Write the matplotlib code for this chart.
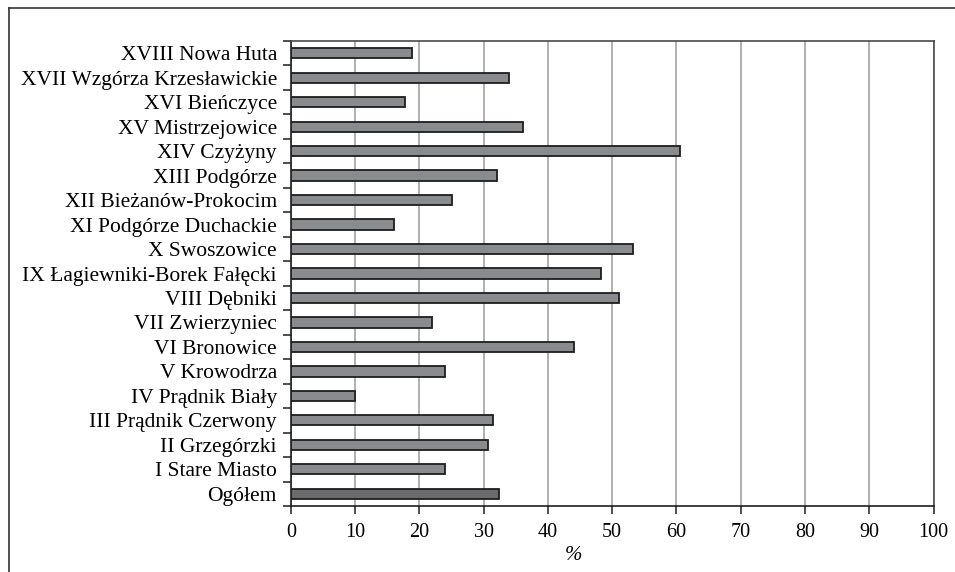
import numpy as np
import matplotlib
matplotlib.use("Agg")
import matplotlib.pyplot as plt
from matplotlib.lines import Line2D

plt.rcParams['font.family'] = ['Liberation Serif', 'DejaVu Serif']

# dzielnice od dołu do góry
dzielnice = ["Ogółem", "I Stare Miasto", "II Grzegórzki", "III Prądnik Czerwony",
             "IV Prądnik Biały", "V Krowodrza", "VI Bronowice", "VII Zwierzyniec",
             "VIII Dębniki", "IX Łagiewniki-Borek Fałęcki", "X Swoszowice",
             "XI Podgórze Duchackie", "XII Bieżanów-Prokocim", "XIII Podgórze",
             "XIV Czyżyny", "XV Mistrzejowice", "XVI Bieńczyce",
             "XVII Wzgórza Krzesławickie", "XVIII Nowa Huta"]
procent = [32.4, 24.0, 30.7, 31.4, 10.0, 24.0, 44.1, 22.0, 51.1, 48.3, 53.3,
           16.0, 25.1, 32.1, 60.5, 36.1, 17.7, 34.0, 18.8]
x_ticks = [0, 10, 20, 30, 40, 50, 60, 70, 80, 90, 100]

fig = plt.figure(figsize=(9.55, 5.72), dpi=100)
ax = fig.add_axes([0.3045, 0.1154, 0.6730, 0.8129])

y = np.arange(len(dzielnice))
kolory = ["#6b6b6e"] + ["#8a8b8e"] * (len(dzielnice) - 1)
ax.barh(y, procent, height=0.42, color=kolory, edgecolor="#1e1e1e", linewidth=1.3, zorder=3)

ax.set_xlim(0, 100)
ax.set_ylim(-0.5, len(dzielnice) - 0.5)
ax.set_xticks(x_ticks)
ax.set_xticklabels([str(v) for v in x_ticks], fontsize=14.5)
ax.xaxis.grid(True, color="#9a9a9a", linewidth=1.1, zorder=0)
ax.set_axisbelow(True)

# kreski osi Y na granicach kategorii, podpisy w środku
ax.set_yticks(np.arange(-0.5, len(dzielnice)), minor=False)
ax.set_yticklabels([])
ax.set_yticks(y, minor=True)
ax.set_yticklabels(dzielnice, minor=True, fontsize=15.5)
ax.tick_params(axis="y", which="major", direction="out", length=6, width=1.1, color="#1e1e1e")
ax.tick_params(axis="y", which="minor", length=0, pad=10)
ax.tick_params(axis="x", direction="out", length=6, width=1.1, color="#1e1e1e", pad=6)

for s in ["left", "bottom"]:
    ax.spines[s].set_color("#1e1e1e")
    ax.spines[s].set_linewidth(1.2)
for s in ["top", "right"]:
    ax.spines[s].set_color("#4a4a4a")
    ax.spines[s].set_linewidth(1.2)

ax.set_xlabel("%", fontsize=15, style="italic")
ax.xaxis.set_label_coords(0.44, -0.085)

# ramka wokół wykresu
fig.add_artist(Line2D([9 / 955, 9 / 955], [0, 1 - 8 / 572], transform=fig.transFigure,
                      color="#333333", linewidth=1.2))
fig.add_artist(Line2D([9 / 955, 1], [1 - 8 / 572, 1 - 8 / 572], transform=fig.transFigure,
                      color="#333333", linewidth=1.2))

fig.savefig("out.png", dpi=100)
